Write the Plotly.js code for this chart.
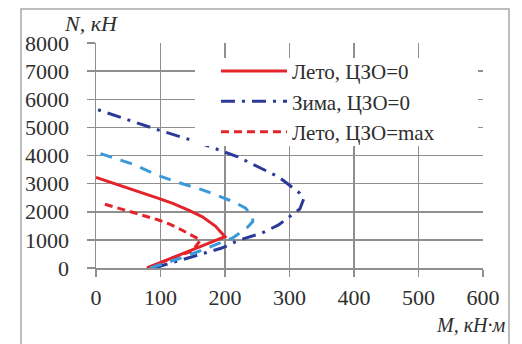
<!DOCTYPE html>
<html><head><meta charset="utf-8">
<script src="https://cdn.plot.ly/plotly-3.0.1.min.js"></script>
<style>html,body{margin:0;padding:0;background:#fff;}</style>
</head><body>
<div id="chart" style="width:522px;height:344px;"></div>
<script>
// Лето, ЦЗО=0
const summerM = [79, 138, 200, 185, 165, 145, 120, 97, 45, 0];
const summerN = [0, 530, 1114, 1490, 1820, 2040, 2290, 2478, 2885, 3225];
// Зима, ЦЗО=0
const winterM = [90, 153, 195, 223, 257, 283, 316, 322, 316, 283, 220, 157, 91, 0];
const winterN = [0, 440, 710, 1000, 1240, 1530, 2100, 2450, 2660, 3240, 3950, 4480, 4950, 5650];
// Лето, ЦЗО=max
const summerMaxM = [80, 115, 149, 162, 133, 115, 97, 45, 9];
const summerMaxN = [0, 330, 600, 996, 1351, 1550, 1707, 2060, 2300];
// Зима, ЦЗО=max (not in legend)
const winterMaxM = [84, 140, 180, 212, 235, 243, 243, 232, 213, 166, 125, 94, 60, 0];
const winterMaxN = [0, 420, 780, 1070, 1450, 1650, 1800, 2130, 2357, 2770, 3060, 3310, 3670, 4120];

const names = ['Лето, ЦЗО=0', 'Зима, ЦЗО=0', 'Лето, ЦЗО=max'];
const xTicks = [0, 100, 200, 300, 400, 500, 600];
const yTicks = [0, 1000, 2000, 3000, 4000, 5000, 6000, 7000, 8000];

const red = '#e3242b', navy = '#2b3a98', sky = '#3a9ad9';
const traces = [
  {x: summerM, y: summerN, name: names[0], mode: 'lines', line: {color: red, width: 3}},
  {x: winterM, y: winterN, name: names[1], mode: 'lines', line: {color: navy, width: 3, dash: '14px,7px,3px,7px'}},
  {x: summerMaxM, y: summerMaxN, name: names[2], mode: 'lines', line: {color: red, width: 3, dash: '8px,5px'}},
  {x: winterMaxM, y: winterMaxN, name: 'Зима, ЦЗО=max', showlegend: false, mode: 'lines', line: {color: sky, width: 3, dash: '12px,9px'}}
];

const serif = "'Liberation Serif', 'Times New Roman', serif";
const gridC = '#8f8f8f';
const tickFont = {family: serif, size: 22, color: '#2e2e2e'};
const layout = {
  width: 522, height: 344,
  margin: {l: 96, r: 39, t: 43, b: 76},
  paper_bgcolor: '#fff', plot_bgcolor: '#fff',
  font: {family: serif},
  showlegend: true,
  xaxis: {range: [0, 600], tickvals: xTicks, ticktext: xTicks.map(String), showgrid: true, gridcolor: gridC, gridwidth: 1.5,
          zeroline: false, ticks: 'outside', ticklen: 7, tickcolor: gridC, tickwidth: 1.5, tickfont: tickFont,
          ticklabelstandoff: 2,
          showline: true, linecolor: gridC, linewidth: 1.5, fixedrange: true},
  yaxis: {range: [0, 8000], tickvals: yTicks, ticktext: yTicks.map(String), showgrid: true, gridcolor: gridC, gridwidth: 1.5,
          zeroline: false, ticks: 'outside', ticklen: 8, tickcolor: gridC, tickwidth: 1.5, tickfont: tickFont,
          ticklabelstandoff: 13,
          showline: true, linecolor: gridC, linewidth: 1.5, fixedrange: true},
  legend: {x: 0.31, y: 0.965, xanchor: 'left', yanchor: 'top', bgcolor: 'rgba(0,0,0,0)', itemwidth: 66,
           font: {family: serif, size: 21, color: '#2e2e2e'}, tracegroupgap: 0},
  shapes: [
    {type: 'rect', xref: 'paper', yref: 'paper', x0: (195-96)/387, x1: (478-96)/387, y0: (268-146)/225, y1: (268-58)/225,
     fillcolor: '#fff', line: {width: 0}, layer: 'above'},
    {type: 'rect', xref: 'paper', yref: 'paper', x0: (21-96)/387, x1: (509-96)/387, y0: (268-360)/225, y1: (268-9)/225,
     fillcolor: 'rgba(0,0,0,0)', line: {color: '#a8a8a8', width: 1.5}, layer: 'below'}
  ],
  annotations: [
    {xref: 'paper', yref: 'paper', x: (62-96)/387, y: (268-23)/225, xanchor: 'left', yanchor: 'middle', showarrow: false,
     text: '<i>N, кН</i>', font: {family: serif, size: 22, color: '#2e2e2e'}},
    {xref: 'paper', yref: 'paper', x: (507-96)/387, y: (268-325)/225, xanchor: 'right', yanchor: 'middle', showarrow: false,
     text: '<i>M, кН·м</i>', font: {family: serif, size: 20, color: '#2e2e2e'}}
  ]
};
Plotly.newPlot('chart', traces, layout, {displayModeBar: false, staticPlot: true});
</script>
</body></html>
